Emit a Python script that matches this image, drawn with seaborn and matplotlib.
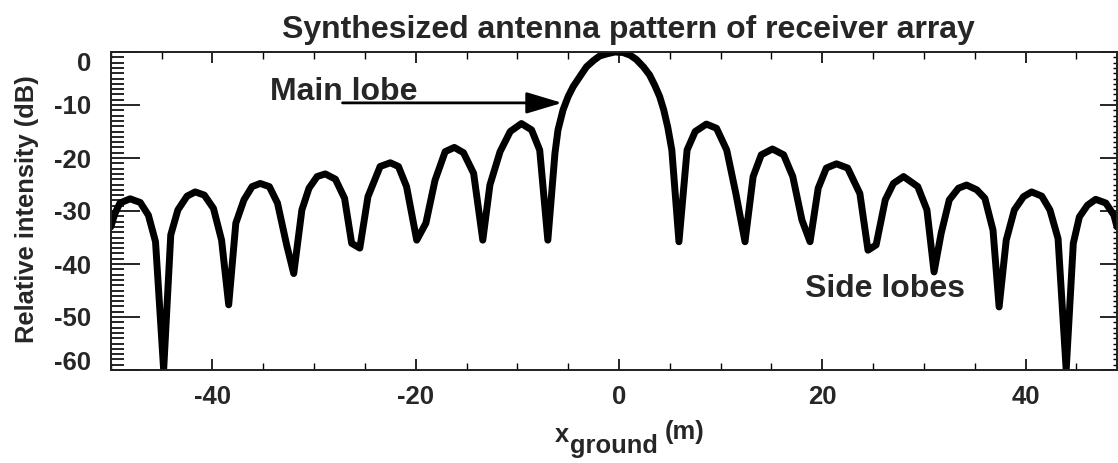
import matplotlib
matplotlib.use("Agg")
import matplotlib.pyplot as plt
from matplotlib.ticker import MultipleLocator, FixedLocator
import seaborn as sns
import pandas as pd

# ---- data ----
x_ground = [-50.0, -49.6, -49.1, -48.1, -47.1, -46.3, -45.6, -44.8, -44.1, -43.4,
            -42.5, -41.7, -40.8, -39.9, -39.1, -38.4, -37.7, -36.9, -36.1, -35.3,
            -34.4, -33.6, -32.7, -32.0, -31.2, -30.5, -29.7, -28.9, -27.9, -27.0,
            -26.3, -25.5, -24.7, -23.5, -22.5, -21.7, -20.9, -19.9, -19.0, -18.1,
            -17.1, -16.2, -15.3, -14.3, -13.4, -12.7, -11.7, -10.7, -9.6, -8.6,
            -7.8, -7.0, -6.3, -6.0, -5.5, -5.0, -4.5, -3.8, -3.2, -2.5,
            -1.9, -1.2, -0.4, 0.4, 1.1, 1.7, 2.4, 3.0, 3.5, 4.0,
            4.4, 4.8, 5.2, 5.9, 6.7, 7.5, 8.6, 9.6, 10.6, 11.5,
            12.4, 13.2, 14.0, 15.1, 16.2, 17.1, 18.0, 18.8, 19.6, 20.4,
            21.4, 22.5, 23.7, 24.5, 25.3, 26.2, 27.0, 28.0, 29.4, 30.3,
            31.0, 31.7, 32.5, 33.4, 34.2, 35.2, 36.0, 36.8, 37.4, 38.1,
            38.9, 39.8, 40.6, 41.6, 42.4, 43.2, 44.0, 44.7, 45.3, 46.1,
            46.9, 47.9, 48.7, 49.0]
intensity_db = [-33.0, -30.5, -28.5, -27.7, -28.4, -30.8, -35.8, -60.0, -34.5, -29.8,
                -27.2, -26.4, -27.0, -29.5, -35.5, -47.7, -32.3, -27.9, -25.4, -24.8,
                -25.4, -28.5, -36.4, -41.8, -29.8, -25.7, -23.5, -23.0, -24.0, -27.6,
                -36.1, -37.0, -27.3, -21.6, -20.9, -21.6, -25.4, -35.5, -32.3, -24.2,
                -18.8, -18.0, -19.0, -22.9, -35.5, -25.1, -18.8, -15.0, -13.5, -14.7,
                -18.5, -35.5, -19.1, -14.7, -10.9, -8.4, -6.5, -4.5, -2.8, -1.6,
                -0.75, -0.35, 0.0, -0.1, -0.6, -1.4, -2.8, -4.3, -6.2, -8.4,
                -10.9, -14.2, -18.5, -35.8, -18.5, -15.0, -13.6, -14.4, -18.5, -26.7,
                -35.8, -23.5, -19.4, -18.3, -19.4, -23.5, -31.7, -35.8, -25.7, -21.9,
                -21.1, -21.9, -26.7, -37.4, -36.4, -27.9, -24.8, -23.5, -25.4, -29.8,
                -41.5, -34.2, -27.9, -25.7, -25.1, -26.0, -27.6, -33.6, -48.1, -35.5,
                -29.8, -27.3, -26.4, -27.2, -29.8, -35.2, -60.0, -36.1, -31.1, -28.9,
                -27.8, -28.5, -30.8, -33.0]
x_ticks = [-40, -20, 0, 20, 40]
x_tick_labels = ["-40", "-20", "0", "20", "40"]
y_ticks = [0, -10, -20, -30, -40, -50, -60]
y_tick_labels = ["0", "-10", "-20", "-30", "-40", "-50", "-60"]

title_text = "Synthesized antenna pattern of receiver array"
ylabel_text = "Relative intensity (dB)"
main_label = "Main lobe"
side_label = "Side lobes"

assert len(x_ground) == len(intensity_db)
df = pd.DataFrame({"x": x_ground, "db": intensity_db})

sns.set_theme(style="ticks")
plt.rcParams["font.family"] = ["Liberation Sans", "DejaVu Sans"]
plt.rcParams["font.weight"] = "bold"

W, H = 1118, 463
fig = plt.figure(figsize=(W / 100, H / 100), dpi=100)
L, R, T, B = 110.8, 1117.0, 52.0, 370.0
ax = fig.add_axes([L / W, 1 - B / H, (R - L) / W, (B - T) / H])

sns.lineplot(data=df, x="x", y="db", ax=ax, color="black", linewidth=5.0,
             sort=False, estimator=None)

ax.set_xlim(-50, 49)
ax.set_ylim(-60, 0)

for s in ax.spines.values():
    s.set_visible(True)
    s.set_linewidth(1.2)
    s.set_color("black")

ax.xaxis.set_major_locator(FixedLocator(x_ticks))
ax.set_xticklabels(x_tick_labels)
ax.xaxis.set_minor_locator(MultipleLocator(5))
ax.set_yticks(y_ticks)
ax.set_yticklabels(y_tick_labels)
ax.yaxis.set_minor_locator(MultipleLocator(1))

ax.tick_params(axis="x", which="major", direction="in", top=True, bottom=True,
               length=8, width=1.2, labelsize=18.5, pad=11, color="black")
ax.tick_params(axis="x", which="minor", direction="in", top=True, bottom=True,
               length=5, width=1.0, color="black")
ax.tick_params(axis="y", which="major", direction="in", left=True, right=False,
               length=21, width=1.2, labelsize=18.5, pad=14, color="black")
ax.tick_params(axis="y", which="minor", direction="in", left=True, right=False,
               length=9, width=1.2, color="black")
for lbl in ax.get_xticklabels() + ax.get_yticklabels():
    lbl.set_fontweight("bold")

# right-side ticks
ax2 = ax.twinx()
ax2.set_ylim(ax.get_ylim())
ax2.set_yticks(y_ticks)
ax2.yaxis.set_minor_locator(MultipleLocator(1))
ax2.tick_params(axis="y", which="major", direction="in", length=12, width=1.2,
                labelright=False, color="black")
ax2.tick_params(axis="y", which="minor", direction="in", length=3, width=1.0,
                color="black")
for s in ax2.spines.values():
    s.set_linewidth(1.2)

# IDL-like shift of end labels
ylbls = ax.get_yticklabels()
ylbls[0].set_verticalalignment("top")
ylbls[-1].set_verticalalignment("baseline")

ax.set_xlabel("")
ax.set_ylabel(ylabel_text, fontsize=18.4, fontweight="bold", va="center")
ax.yaxis.set_label_coords((27 - L) / (R - L), (B - 209) / (B - T))

ax.text((628 - L) / (R - L), (B - 38) / (B - T), title_text, transform=ax.transAxes,
        ha="center", va="baseline", fontsize=23, fontweight="bold")

# x axis label: x_ground (m)
t1 = fig.text(555 / W, 1 - 442 / H, "x", fontsize=18.4, fontweight="bold",
              ha="left", va="baseline")
t_g = ax.annotate("ground", xy=(1, 0), xycoords=t1, xytext=(1, -11),
                  textcoords="offset pixels", ha="left", va="bottom",
                  fontsize=18.4, fontweight="bold")
ax.annotate("(m)", xy=(1, 0), xycoords=t_g, xytext=(7, 14),
            textcoords="offset pixels", ha="left", va="bottom",
            fontsize=18.4, fontweight="bold")

# annotations
ax.text(-34.3, -9.06, main_label, ha="left", va="baseline", fontsize=23,
        fontweight="bold")
ax.annotate("", xy=(-5.6, -9.6), xytext=(-27.2, -9.6),
            arrowprops=dict(arrowstyle="-|>,head_length=1.1,head_width=0.33",
                            lw=2.0, color="black", shrinkA=0, shrinkB=0,
                            mutation_scale=20))
ax.text(18.3, -46.2, side_label, ha="left", va="baseline", fontsize=23,
        fontweight="bold")

fig.savefig("out.png", dpi=100)
